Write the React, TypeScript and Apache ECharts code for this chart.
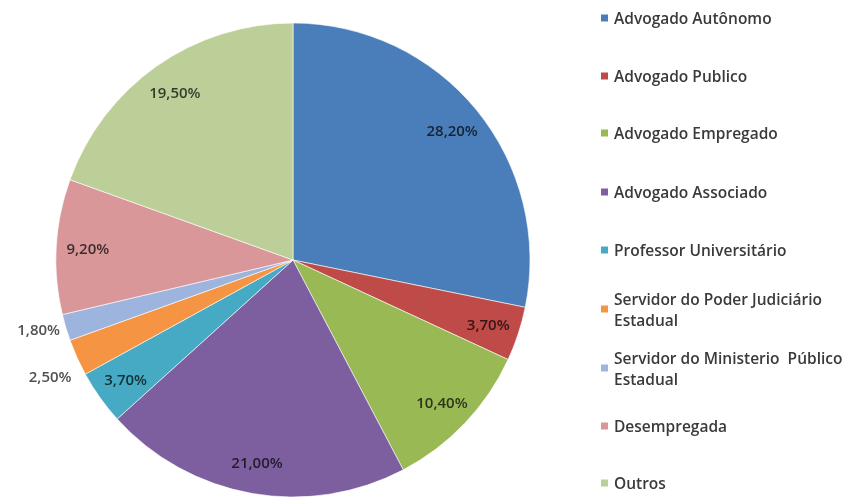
import React, { useEffect, useRef } from "react";
import * as echarts from "echarts";

const categories = [
  "Advogado Autônomo",
  "Advogado Publico",
  "Advogado Empregado",
  "Advogado Associado",
  "Professor Universitário",
  "Servidor do Poder Judiciário Estadual",
  "Servidor do Ministerio  Público Estadual",
  "Desempregada",
  "Outros",
];
const values = [28.2, 3.7, 10.4, 21.0, 3.7, 2.5, 1.8, 9.2, 19.5];
const colors = ["#4A7EBB", "#BE4B48", "#98B954", "#7D5FA0", "#46AAC5", "#F59443", "#9DB4DE", "#D9979A", "#BCCF98"];
const legendCenters = [18, 76, 133, 192, 250, 309, 368, 426, 483];

const fmt = (v: number) => v.toFixed(2).replace(".", ",") + "%";
const FONT = "Open Sans";
const CX = 293, CY = 260, R = 237;

const outsideLabel = (i: number, shifted: boolean, show: boolean) => ({
  show,
  position: "outside",
  distanceToLabelLine: 0,
  lineHeight: shifted ? 16 : 15,
  formatter: () => (shifted ? "\n\n" : "") + fmt(values[i]),
  fontFamily: FONT,
  fontSize: 15,
  fontWeight: 600,
  color: "#505050",
});

export default function App() {
  const ref = useRef<HTMLDivElement>(null);
  useEffect(() => {
    if (!ref.current) return;
    const chart = echarts.init(ref.current, undefined, { renderer: "svg" });
    const L = 21;
    const legends = categories.map((name, i) => {
      const twoLine = name.endsWith(" Estadual");
      return {
        data: [name],
        orient: "vertical",
        left: 599,
        top: legendCenters[i] - (twoLine ? 1.5 * L : L / 2),
        itemWidth: 9,
        itemHeight: 9,
        itemGap: 0,
        padding: 0,
        selectedMode: false,
        icon: "rect",
        formatter: (n: string) => n.replace(" Estadual", "\nEstadual"),
        textStyle: {
          fontFamily: FONT,
          fontSize: 15.5,
          fontWeight: 600,
          color: "#3a3a3a",
          lineHeight: L,
          padding: twoLine ? [L, 0, 0, 0] : 0,
        },
      };
    });
    const transparent = { color: "rgba(0,0,0,0)" };
    chart.setOption({
      animation: false,
      color: colors,
      legend: legends,
      series: [
        {
          type: "pie",
          center: [CX, CY],
          radius: [0, R],
          startAngle: 90,
          clockwise: true,
          avoidLabelOverlap: false,
          labelLayout: { hideOverlap: false },
          itemStyle: { borderColor: "#ffffff", borderWidth: 0.6 },
          emphasis: { disabled: true },
          labelLine: { show: false, length: 6, length2: 0 },
          data: categories.map((name, i) => ({
            name,
            value: values[i],
            label: outsideLabel(i, i === 5, i === 5 || i === 6),
          })),
        },
        {
          type: "pie",
          center: [CX, CY],
          radius: [168, R],
          startAngle: 90,
          clockwise: true,
          silent: true,
          labelLayout: { hideOverlap: false },
          itemStyle: transparent,
          emphasis: { disabled: true },
          labelLine: { show: false },
          data: categories.map((name, i) => ({
            name,
            value: values[i],
            label: {
              show: i !== 5 && i !== 6,
              position: "inside",
              formatter: () => fmt(values[i]),
              fontFamily: FONT,
              fontSize: 15,
              fontWeight: 600,
              color: "rgba(0,0,0,0.72)",
            },
          })),
        },
      ],
    });
    return () => chart.dispose();
  }, []);
  return <div ref={ref} style={{ position: "fixed", left: 0, top: 0, width: 851, height: 500 }} />;
}
